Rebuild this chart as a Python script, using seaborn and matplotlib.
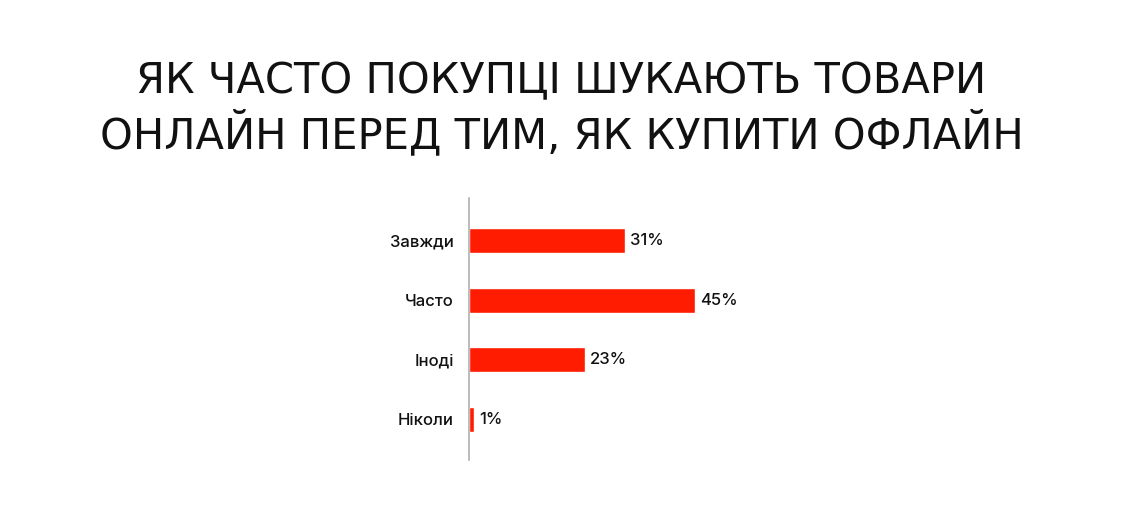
import matplotlib
matplotlib.use('Agg')
import matplotlib.pyplot as plt
import seaborn as sns
import pandas as pd

# chart data
categories = ['Завжди', 'Часто', 'Іноді', 'Ніколи']
shares = [31, 45, 23, 1]
title_lines = ['ЯК ЧАСТО ПОКУПЦІ ШУКАЮТЬ ТОВАРИ', 'ОНЛАЙН ПЕРЕД ТИМ, ЯК КУПИТИ ОФЛАЙН']

sns.set_theme(style='white')
plt.rcParams['font.family'] = ['Inter', 'DejaVu Sans']

df = pd.DataFrame({'category': categories, 'share': shares})

fig = plt.figure(figsize=(11.25, 5.26), dpi=100)
ax = fig.add_axes([0.4169, 0.1255, 0.447, 0.4981])

sns.barplot(data=df, x='share', y='category', orient='h', color='#ff1c00',
            width=0.42, saturation=1, ax=ax)

ax.set_xlim(0, 100)
ax.set_ylim(3.68, -0.71)
ax.set_xlabel('')
ax.set_ylabel('')
ax.set_xticks([])
ax.tick_params(axis='y', length=0, pad=11, labelsize=12, labelcolor='#111111')
for lbl in ax.get_yticklabels():
    lbl.set_fontweight('medium')
for s in ['top', 'right', 'bottom']:
    ax.spines[s].set_visible(False)
ax.spines['left'].set_color('#b0b0b0')
ax.spines['left'].set_linewidth(1.2)

for bar, v in zip(ax.patches, shares):
    ax.text(bar.get_width() + 1.0, bar.get_y() + bar.get_height() / 2, f'{v}%',
            va='center', ha='left', fontsize=12, fontweight='medium', color='#111111')

fig.text(0.499, 1 - 81 / 526, title_lines[0], ha='center', va='center',
         fontsize=30, family=['DejaVu Sans'], color='#111111')
fig.text(0.499, 1 - 134 / 526, title_lines[1], ha='center', va='center',
         fontsize=30, family=['DejaVu Sans'], color='#111111')

fig.savefig('out.png', dpi=100, facecolor='white')
